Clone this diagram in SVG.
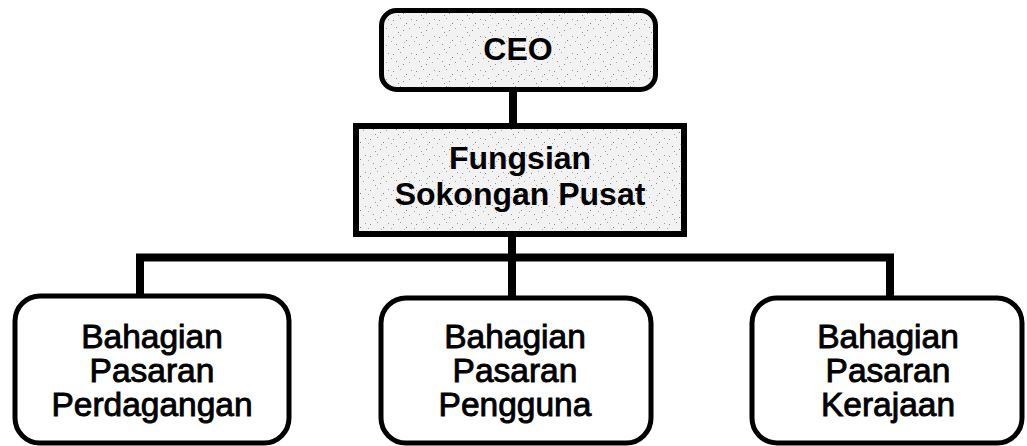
<svg xmlns="http://www.w3.org/2000/svg" width="1027" height="446" viewBox="0 0 1027 446">
<style>
.box{stroke:#000;stroke-width:5;}
.shaded{fill:url(#speckle);}
.plain{fill:#fff;}
.conn{stroke:#000;stroke-width:8;fill:none;stroke-linecap:square;}
.t{font-family:"Liberation Sans",Arial,sans-serif;fill:#000;text-anchor:middle;}
.tb{font-weight:bold;font-size:32px;}
.tr{font-size:33.5px;stroke:#000;stroke-width:0.9px;}
</style>
<defs>
<pattern id="speckle" width="23" height="17" patternUnits="userSpaceOnUse">
<rect width="23" height="17" fill="#f2f2f2"/>
<rect x="2" y="3" width="1" height="1" fill="#8a8a8a"/>
<rect x="9" y="1" width="1" height="1" fill="#a0a0a0"/>
<rect x="15" y="6" width="1" height="1" fill="#7c7c7c"/>
<rect x="20" y="2" width="1" height="1" fill="#9a9a9a"/>
<rect x="5" y="10" width="1" height="1" fill="#909090"/>
<rect x="12" y="13" width="1" height="1" fill="#898989"/>
<rect x="18" y="11" width="1" height="1" fill="#a5a5a5"/>
<rect x="7" y="15" width="1" height="1" fill="#959595"/>
<rect x="0" y="7" width="1" height="1" fill="#ababab"/>
<rect x="13" y="8" width="1" height="1" fill="#b0b0b0"/>
</pattern>
</defs>
<g id="connectors">
<line class="conn" x1="513" y1="91" x2="513" y2="124"/>
<line class="conn" x1="512" y1="236" x2="512" y2="296"/>
<polyline class="conn" points="140,296 140,257.5 890,257.5 890,296"/>
</g>
<g id="ceo">
<rect class="box shaded" x="381.5" y="10.5" width="274" height="79" rx="15"/>
<text class="t tb" x="518" y="60">CEO</text>
</g>
<g id="fungsian">
<rect class="box shaded" x="356" y="126" width="328" height="108" style="stroke-width:6"/>
<text class="t tb" x="520" y="169">Fungsian</text>
<text class="t tb" x="520" y="205">Sokongan Pusat</text>
</g>
<g id="perdagangan">
<rect class="box plain" x="15" y="296" width="274" height="147" rx="25"/>
<text class="t tr" x="152" y="348">Bahagian</text>
<text class="t tr" x="152" y="382">Pasaran</text>
<text class="t tr" x="152" y="416">Perdagangan</text>
</g>
<g id="pengguna">
<rect class="box plain" x="381" y="298" width="270" height="145" rx="25"/>
<text class="t tr" x="515" y="348">Bahagian</text>
<text class="t tr" x="515" y="382">Pasaran</text>
<text class="t tr" x="515" y="416">Pengguna</text>
</g>
<g id="kerajaan">
<rect class="box plain" x="752" y="298" width="270" height="145" rx="25"/>
<text class="t tr" x="888" y="348">Bahagian</text>
<text class="t tr" x="888" y="382">Pasaran</text>
<text class="t tr" x="888" y="416">Kerajaan</text>
</g>
</svg>
